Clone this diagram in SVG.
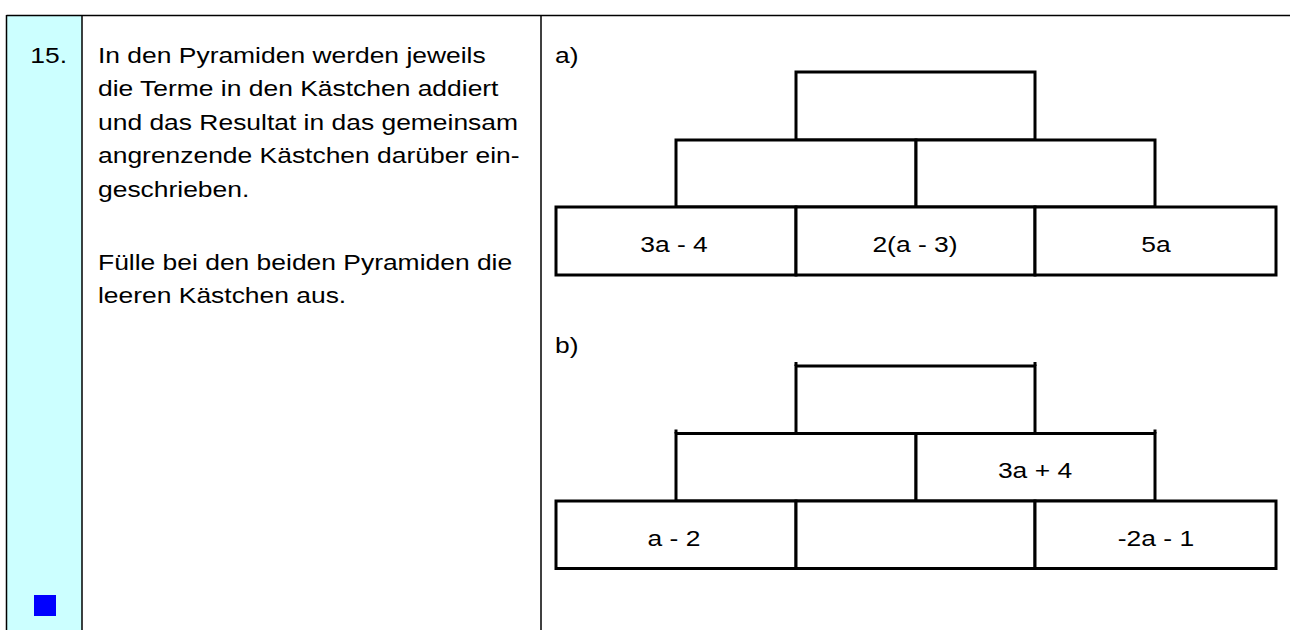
<svg xmlns="http://www.w3.org/2000/svg" width="1290" height="630" viewBox="0 0 1290 630">
<style>
.frame{stroke:#000;stroke-width:1.5;fill:none}
.box{stroke:#000;stroke-width:3;fill:#fff}
.tick{stroke:#000;stroke-width:3}
.t{font-family:"Liberation Sans",Arial,sans-serif;font-size:22.5px;fill:#000}
.c{text-anchor:middle}
.e{text-anchor:end}
</style>
<rect width="1290" height="630" fill="#fff"/>
<g id="table">
<rect x="7" y="16" width="75" height="614" fill="#ccffff"/>
<line class="frame" x1="6.5" y1="15.5" x2="1290" y2="15.5"/>
<line class="frame" x1="6.5" y1="15" x2="6.5" y2="630"/>
<line class="frame" x1="82" y1="15" x2="82" y2="630"/>
<line class="frame" x1="541" y1="15" x2="541" y2="630"/>
</g>
<g id="number">
<text class="t e" transform="translate(67,63) scale(1.175,1)">15.</text>
<rect x="34" y="595" width="22" height="21" fill="#0000ff"/>
</g>
<g id="instructions" transform="translate(98,0) scale(1.175,1)">
<text class="t" x="0" y="63">In den Pyramiden werden jeweils</text>
<text class="t" x="0" y="96.5">die Terme in den Kästchen addiert</text>
<text class="t" x="0" y="130">und das Resultat in das gemeinsam</text>
<text class="t" x="0" y="163.5">angrenzende Kästchen darüber ein-</text>
<text class="t" x="0" y="197">geschrieben.</text>
<text class="t" x="0" y="270">Fülle bei den beiden Pyramiden die</text>
<text class="t" x="0" y="303.5">leeren Kästchen aus.</text>
</g>
<g id="pyramid-a">
<text class="t" transform="translate(555,63) scale(1.175,1)">a)</text>
<rect class="box" x="796" y="72" width="239" height="68"/>
<rect class="box" x="676" y="140" width="240" height="67"/>
<rect class="box" x="916" y="140" width="239" height="67"/>
<rect class="box" x="556" y="207" width="240" height="68"/>
<rect class="box" x="796" y="207" width="239" height="68"/>
<rect class="box" x="1035" y="207" width="241" height="68"/>
<text class="t c" transform="translate(674,252) scale(1.175,1)">3a - 4</text>
<text class="t c" transform="translate(915,252) scale(1.175,1)">2(a - 3)</text>
<text class="t c" transform="translate(1156,252) scale(1.175,1)">5a</text>
</g>
<g id="pyramid-b">
<text class="t" transform="translate(555,353) scale(1.175,1)">b)</text>
<rect class="box" x="796" y="366" width="239" height="67.5"/>
<rect class="box" x="676" y="433.5" width="240" height="67.5"/>
<rect class="box" x="916" y="433.5" width="239" height="67.5"/>
<rect class="box" x="556" y="501" width="240" height="67.5"/>
<rect class="box" x="796" y="501" width="239" height="67.5"/>
<rect class="box" x="1035" y="501" width="241" height="67.5"/>
<line class="tick" x1="796" y1="362" x2="796" y2="366"/>
<line class="tick" x1="1035" y1="362" x2="1035" y2="366"/>
<line class="tick" x1="676" y1="429.5" x2="676" y2="433.5"/>
<line class="tick" x1="1155" y1="429.5" x2="1155" y2="433.5"/>
<text class="t c" transform="translate(1035,478) scale(1.175,1)">3a + 4</text>
<text class="t c" transform="translate(674,546) scale(1.175,1)">a - 2</text>
<text class="t c" transform="translate(1156,546) scale(1.175,1)">-2a - 1</text>
</g>
</svg>
